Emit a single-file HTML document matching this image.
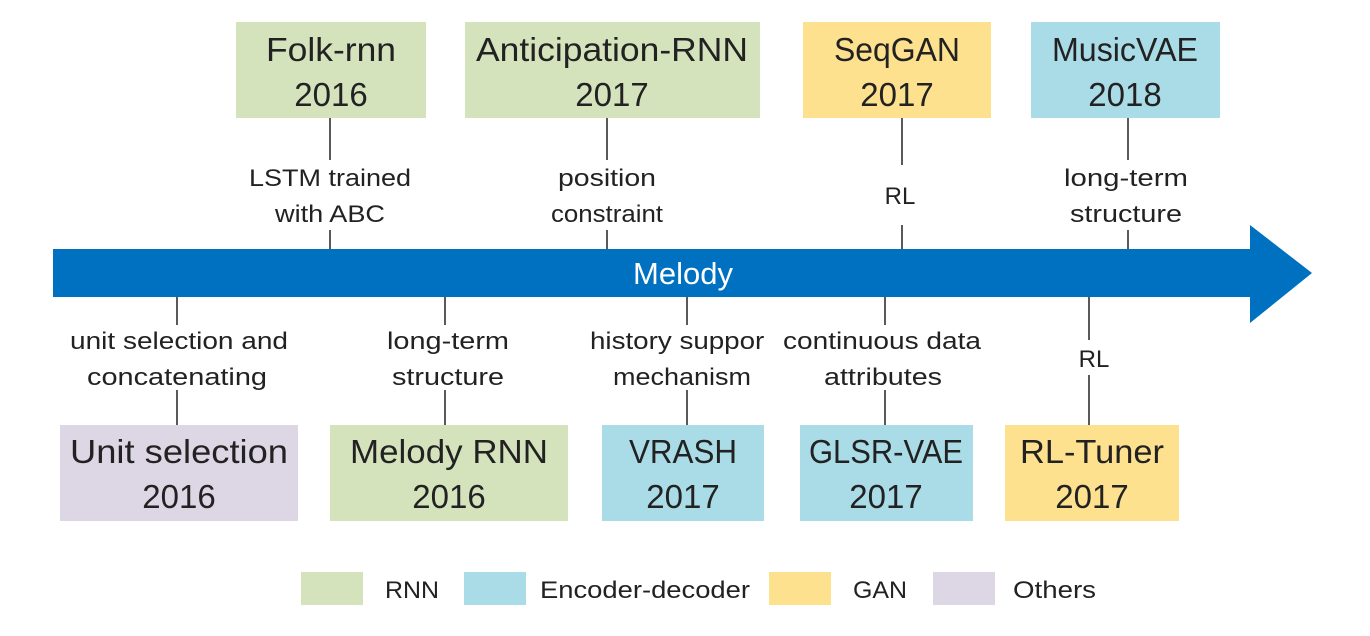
<!DOCTYPE html>
<html><head><meta charset="utf-8"><style>body{margin:0;background:#fff}svg{display:block}</style></head><body>
<svg width="1370" height="636" xmlns="http://www.w3.org/2000/svg" font-family="Liberation Sans, sans-serif">
<defs><clipPath id="c1"><rect x="580" y="320" width="184" height="80"/></clipPath></defs>
<polygon points="53,249 1250,249 1250,225 1312,273 1250,323 1250,297 53,297" fill="#0070c0"/>
<text x="683" y="284" font-size="31" fill="#fff" text-anchor="middle">Melody</text>
<g stroke="#000" stroke-width="1.3">
<line x1="330" y1="118" x2="330" y2="160"/><line x1="330" y1="230" x2="330" y2="249"/>
<line x1="607" y1="118" x2="607" y2="160"/><line x1="607" y1="230" x2="607" y2="249"/>
<line x1="902" y1="118" x2="902" y2="165"/><line x1="902" y1="225" x2="902" y2="249"/>
<line x1="1128" y1="118" x2="1128" y2="160"/><line x1="1128" y1="230" x2="1128" y2="249"/>
<line x1="177" y1="297" x2="177" y2="325"/><line x1="177" y1="390" x2="177" y2="425"/>
<line x1="445" y1="297" x2="445" y2="325"/><line x1="445" y1="390" x2="445" y2="425"/>
<line x1="687" y1="297" x2="687" y2="325"/><line x1="687" y1="390" x2="687" y2="425"/>
<line x1="885" y1="297" x2="885" y2="325"/><line x1="885" y1="390" x2="885" y2="425"/>
<line x1="1089" y1="297" x2="1089" y2="340"/><line x1="1089" y1="375" x2="1089" y2="425"/>
</g>
<rect x="236" y="22" width="190" height="96" fill="#d5e3bd"/>
<rect x="465" y="22" width="295" height="96" fill="#d5e3bd"/>
<rect x="803" y="22" width="188" height="96" fill="#fde18f"/>
<rect x="1031" y="22" width="189" height="96" fill="#a9dce6"/>
<rect x="60" y="425" width="238" height="96" fill="#dcd6e5"/>
<rect x="330" y="425" width="238" height="96" fill="#d5e3bd"/>
<rect x="602" y="425" width="162" height="96" fill="#a9dce6"/>
<rect x="800" y="425" width="173" height="96" fill="#a9dce6"/>
<rect x="1005" y="425" width="174" height="96" fill="#fde18f"/>
<g font-size="33" fill="#222" text-anchor="middle">
<text x="331" y="61" textLength="130" lengthAdjust="spacingAndGlyphs">Folk-rnn</text><text x="331" y="106">2016</text>
<text x="612" y="61" textLength="272" lengthAdjust="spacingAndGlyphs">Anticipation-RNN</text><text x="612" y="106">2017</text>
<text x="897" y="61" textLength="126" lengthAdjust="spacingAndGlyphs">SeqGAN</text><text x="897" y="106">2017</text>
<text x="1125" y="61" textLength="146" lengthAdjust="spacingAndGlyphs">MusicVAE</text><text x="1125" y="106">2018</text>
<text x="179" y="463" textLength="218" lengthAdjust="spacingAndGlyphs">Unit selection</text><text x="179" y="508">2016</text>
<text x="449" y="463" textLength="198" lengthAdjust="spacingAndGlyphs">Melody RNN</text><text x="449" y="508">2016</text>
<text x="683" y="463" textLength="108" lengthAdjust="spacingAndGlyphs">VRASH</text><text x="683" y="508">2017</text>
<text x="886" y="463" textLength="154" lengthAdjust="spacingAndGlyphs">GLSR-VAE</text><text x="886" y="508">2017</text>
<text x="1092" y="463" textLength="144" lengthAdjust="spacingAndGlyphs">RL-Tuner</text><text x="1092" y="508">2017</text>
</g>
<g font-size="24" fill="#222" text-anchor="middle">
<text x="330" y="186" textLength="162" lengthAdjust="spacingAndGlyphs">LSTM trained</text><text x="330" y="222" textLength="110" lengthAdjust="spacingAndGlyphs">with ABC</text>
<text x="607" y="186" textLength="98" lengthAdjust="spacingAndGlyphs">position</text><text x="607" y="222" textLength="112" lengthAdjust="spacingAndGlyphs">constraint</text>
<text x="900" y="204">RL</text>
<text x="1126" y="186" textLength="124" lengthAdjust="spacingAndGlyphs">long-term</text><text x="1126" y="222" textLength="112" lengthAdjust="spacingAndGlyphs">structure</text>
<text x="179" y="349" textLength="218" lengthAdjust="spacingAndGlyphs">unit selection and</text><text x="177" y="385" textLength="180" lengthAdjust="spacingAndGlyphs">concatenating</text>
<text x="448" y="349" textLength="122" lengthAdjust="spacingAndGlyphs">long-term</text><text x="448" y="385" textLength="112" lengthAdjust="spacingAndGlyphs">structure</text>
<g clip-path="url(#c1)"><text x="590" y="349" text-anchor="start" textLength="182" lengthAdjust="spacingAndGlyphs">history support</text></g><text x="682" y="385" textLength="138" lengthAdjust="spacingAndGlyphs">mechanism</text>
<text x="882" y="349" textLength="198" lengthAdjust="spacingAndGlyphs">continuous data</text><text x="883" y="385" textLength="118" lengthAdjust="spacingAndGlyphs">attributes</text>
<text x="1094" y="367">RL</text>
</g>
<rect x="301" y="572" width="62" height="33" fill="#d5e3bd"/>
<rect x="464" y="572" width="62" height="33" fill="#a9dce6"/>
<rect x="769" y="572" width="62" height="33" fill="#fde18f"/>
<rect x="933" y="572" width="62" height="33" fill="#dcd6e5"/>
<g font-size="24" fill="#222">
<text x="385" y="598" textLength="54" lengthAdjust="spacingAndGlyphs">RNN</text>
<text x="540" y="598" textLength="210" lengthAdjust="spacingAndGlyphs">Encoder-decoder</text>
<text x="853" y="598" textLength="54" lengthAdjust="spacingAndGlyphs">GAN</text>
<text x="1013" y="598" textLength="83" lengthAdjust="spacingAndGlyphs">Others</text>
</g>
</svg>
</body></html>
